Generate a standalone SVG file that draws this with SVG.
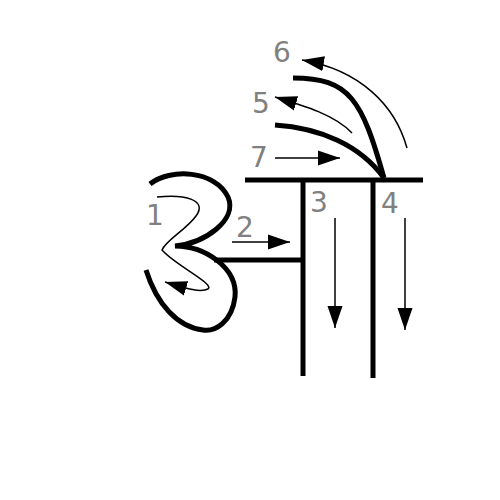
<svg xmlns="http://www.w3.org/2000/svg" width="500" height="500" viewBox="0 0 500 500">
<style>
.s{fill:none;stroke:#000;stroke-width:5}
.a{fill:none;stroke:#000;stroke-width:1.5}
.n{font-family:"DejaVu Sans",sans-serif;font-size:28px;fill:#808080}
</style>
<defs>
<marker id="ah" markerUnits="userSpaceOnUse" markerWidth="22" markerHeight="16" refX="22" refY="7.5" orient="auto" viewBox="0 0 22 15">
<path d="M0,0 L22,7.5 L0,15 z" fill="#000"/>
</marker>
</defs>
<rect width="500" height="500" fill="#fff"/>
<g id="strokes">
<path id="s1" class="s" d="M150,184 C170,168 215,170 228,197 C238,220 205,243 175,246 C205,246 238,268 235,297 C232,322 215,332 203,330 C178,327 157,305 146,270"/>
<path id="s2" class="s" d="M214,260 L303,260"/>
<path id="s3" class="s" d="M303,180 L303,376"/>
<path id="s4" class="s" d="M373,180 L373,378"/>
<path id="s5" class="s" d="M275,125 C320,128 360,145 384,178"/>
<path id="s6" class="s" d="M293,78 C350,78 362,100 384,178"/>
<path id="s7" class="s" d="M245,180 L423,180"/>
</g>
<g id="connectors">
<path class="a" marker-end="url(#ah)" d="M157,197 C185,194 208,200 196,216 C186,230 166,240 162,250 C175,265 215,284 208,289 C200,293 185,288 165,282"/>
<path class="a" marker-end="url(#ah)" d="M232,242 L290,242"/>
<path class="a" marker-end="url(#ah)" d="M335,218 L335,328"/>
<path class="a" marker-end="url(#ah)" d="M405,218 L405,330"/>
<path class="a" marker-end="url(#ah)" d="M352,133 C335,115 305,106 275,97"/>
<path class="a" marker-end="url(#ah)" d="M407,148 C395,105 360,70 302,60"/>
<path class="a" marker-end="url(#ah)" d="M275,158 L340,158"/>
</g>
<g id="labels">
<text class="n" x="146" y="225">1</text>
<text class="n" x="236" y="237">2</text>
<text class="n" x="310" y="212">3</text>
<text class="n" x="381" y="213">4</text>
<text class="n" x="252" y="113">5</text>
<text class="n" x="273" y="62">6</text>
<text class="n" x="250" y="167">7</text>
</g>
</svg>
